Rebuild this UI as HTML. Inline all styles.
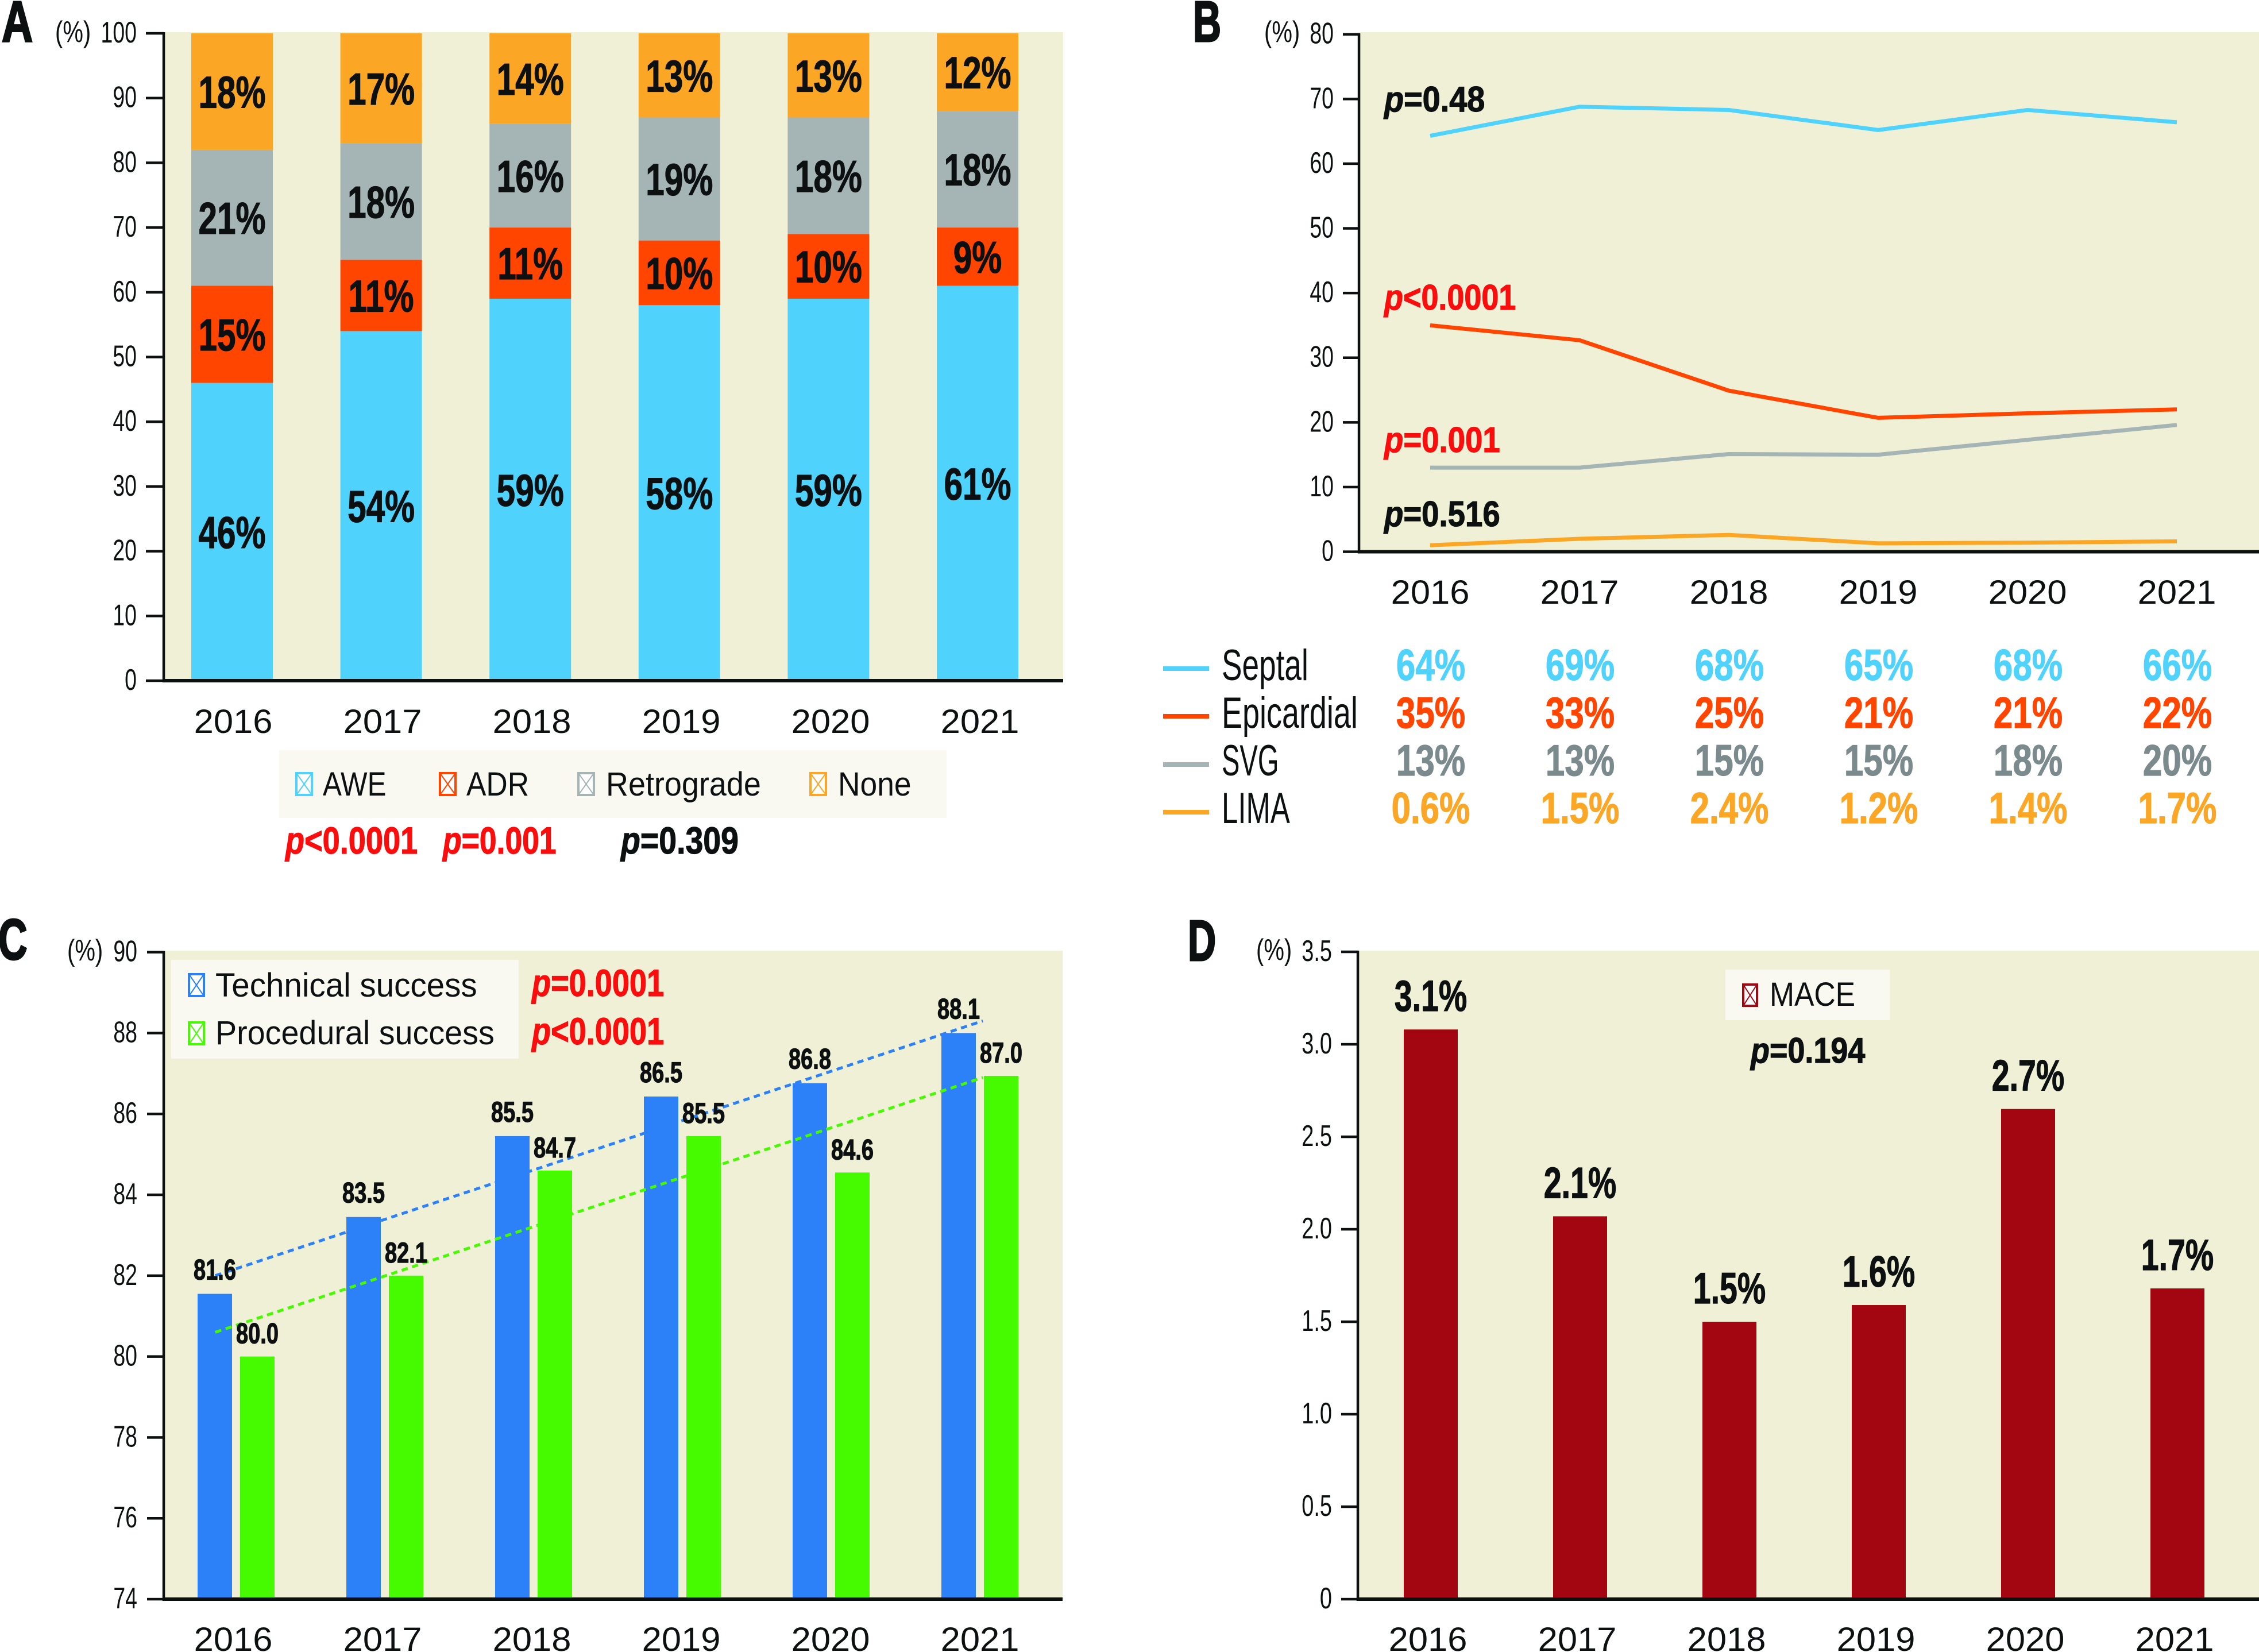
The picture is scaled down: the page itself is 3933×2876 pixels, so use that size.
<!DOCTYPE html>
<html lang="en">
<head>
<meta charset="utf-8">
<title>Four-panel chart of CTO PCI trends 2016 to 2021</title>
<style>
html,body{margin:0;padding:0;background:#fff;width:3933px;height:2876px;overflow:hidden}
svg{display:block}
text{font-family:"Liberation Sans",Arial,sans-serif;fill:#0d1011}
.b{font-weight:700;stroke:#0d1011;stroke-width:1.2px}
.letter{font-weight:700;stroke:#0d1011;stroke-width:3px}
.p{font-style:italic}
.red,.b.red{fill:#f90d0d;stroke:#f90d0d}
</style>
</head>
<body>
<svg id="figure" xmlns="http://www.w3.org/2000/svg" width="3933" height="2876" viewBox="0 0 3933 2876">
  <rect x="0" y="0" width="3933" height="2876" fill="#ffffff"/>

  <!-- Panel A -->
  <g id="panel-a">
    <text class="letter" font-size="100" transform="translate(3,72) scale(.75,1)">A</text>
    <rect x="285" y="56" width="1566" height="1128" fill="#eff0d6"/>
    <text font-size="52" transform="translate(96,73) scale(.77,1)">(%)</text>
    <g id="marks-a"></g>
    <g>
      <rect x="486" y="1306" width="1162" height="118" fill="#f9f8f1"/>
      <g fill="#fff" stroke="#4fd3fc"><rect x="516" y="1346" width="27" height="38" stroke-width="4"/><path d="M516 1346L543 1384M543 1346L516 1384" stroke-width="2"/></g>
      <text font-size="58" transform="translate(562,1385) scale(.85,1)">AWE</text>
      <g fill="#fff" stroke="#ff4500"><rect x="766" y="1346" width="27" height="38" stroke-width="4"/><path d="M766 1346L793 1384M793 1346L766 1384" stroke-width="2"/></g>
      <text font-size="58" transform="translate(812,1385) scale(.89,1)">ADR</text>
      <g fill="#fff" stroke="#a5b4b5"><rect x="1007" y="1346" width="27" height="38" stroke-width="4"/><path d="M1007 1346L1034 1384M1034 1346L1007 1384" stroke-width="2"/></g>
      <text font-size="58" transform="translate(1055,1385) scale(.93,1)">Retrograde</text>
      <g fill="#fff" stroke="#fba625"><rect x="1411" y="1346" width="27" height="38" stroke-width="4"/><path d="M1411 1346L1438 1384M1438 1346L1411 1384" stroke-width="2"/></g>
      <text font-size="58" transform="translate(1459,1385) scale(.92,1)">None</text>
    </g>
    <text class="b red" font-size="66" transform="translate(497,1486) scale(.82,1)"><tspan class="p red">p</tspan>&lt;0.0001</text>
    <text class="b red" font-size="66" transform="translate(771,1486) scale(.81,1)"><tspan class="p red">p</tspan>=0.001</text>
    <text class="b" font-size="66" transform="translate(1081,1486) scale(.84,1)"><tspan class="p">p</tspan>=0.309</text>
  </g>

  <!-- Panel B -->
  <g id="panel-b">
    <text class="letter" font-size="100" transform="translate(2077,72) scale(.68,1)">B</text>
    <rect x="2366" y="56" width="1567" height="905" fill="#eff0d6"/>
    <text font-size="52" transform="translate(2201,73) scale(.77,1)">(%)</text>
    <g id="marks-b"></g>
    <text class="b" font-size="62" transform="translate(2410,194) scale(.9,1)"><tspan class="p">p</tspan>=0.48</text>
    <text class="b red" font-size="62" transform="translate(2410,539) scale(.87,1)"><tspan class="p red">p</tspan>&lt;0.0001</text>
    <text class="b red" font-size="62" transform="translate(2410,787) scale(.88,1)"><tspan class="p red">p</tspan>=0.001</text>
    <text class="b" font-size="62" transform="translate(2410,916) scale(.88,1)"><tspan class="p">p</tspan>=0.516</text>
    <rect x="2025" y="1160" width="80" height="8" fill="#4fd3fc"/>
    <rect x="2025" y="1243" width="80" height="8" fill="#ff4500"/>
    <rect x="2025" y="1327" width="80" height="8" fill="#a5b4b5"/>
    <rect x="2025" y="1410" width="80" height="8" fill="#fba625"/>
    <text font-size="76" transform="translate(2127,1184) scale(.7,1)">Septal</text>
    <text font-size="76" transform="translate(2127,1267) scale(.71,1)">Epicardial</text>
    <text font-size="76" transform="translate(2127,1350) scale(.62,1)">SVG</text>
    <text font-size="76" transform="translate(2127,1433) scale(.67,1)">LIMA</text>
  </g>

  <!-- Panel C -->
  <g id="panel-c">
    <text class="letter" font-size="100" transform="translate(-3,1670) scale(.7,1)">C</text>
    <rect x="285" y="1655" width="1565" height="1130" fill="#eff0d6"/>
    <text font-size="52" transform="translate(117,1672) scale(.77,1)">(%)</text>
    <g id="marks-c"></g>
    <g>
      <rect x="298" y="1671" width="605" height="172" fill="#f9f8f1"/>
      <g fill="#fff" stroke="#2c80f8"><rect x="329" y="1696" width="26" height="38" stroke-width="4"/><path d="M329 1696L355 1734M355 1696L329 1734" stroke-width="2"/></g>
      <text font-size="58" transform="translate(375,1735) scale(.975,1)">Technical success</text>
      <g fill="#fff" stroke="#46fa00"><rect x="329" y="1780" width="26" height="38" stroke-width="4"/><path d="M329 1780L355 1818M355 1780L329 1818" stroke-width="2"/></g>
      <text font-size="58" transform="translate(375,1818) scale(.96,1)">Procedural success</text>
    </g>
    <text class="b red" font-size="66" transform="translate(926,1734) scale(.82,1)"><tspan class="p red">p</tspan>=0.0001</text>
    <text class="b red" font-size="66" transform="translate(926,1818) scale(.82,1)"><tspan class="p red">p</tspan>&lt;0.0001</text>
  </g>

  <!-- Panel D -->
  <g id="panel-d">
    <text class="letter" font-size="100" transform="translate(2068,1672) scale(.68,1)">D</text>
    <rect x="2364" y="1655" width="1569" height="1130" fill="#eff0d6"/>
    <text font-size="52" transform="translate(2187,1671) scale(.77,1)">(%)</text>
    <g id="marks-d"></g>
    <g>
      <rect x="3004" y="1688" width="286" height="88" fill="#f9f8f1"/>
      <g fill="#fff" stroke="#a30610"><rect x="3035" y="1714" width="24" height="37" stroke-width="4"/><path d="M3035 1714L3059 1751M3059 1714L3035 1751" stroke-width="2"/></g>
      <text font-size="58" transform="translate(3081,1751) scale(.89,1)">MACE</text>
    </g>
    <text class="b" font-size="62" transform="translate(3048,1850) scale(.87,1)"><tspan class="p">p</tspan>=0.194</text>
  </g>
</svg>

<script>
const categories = ['2016', '2017', '2018', '2019', '2020', '2021'];

// Panel A: stacked share of crossing strategies
const aweValues = [46, 54, 59, 58, 59, 61];
const adrValues = [15, 11, 11, 10, 10, 9];
const retrogradeValues = [21, 18, 16, 19, 18, 18];
const noneValues = [18, 17, 14, 13, 13, 12];
const panelATicks = [0, 10, 20, 30, 40, 50, 60, 70, 80, 90, 100];

// Panel B: target vessel lines and printed table
const septalValues = [64.3, 68.8, 68.3, 65.2, 68.3, 66.4];
const epicardialValues = [35.0, 32.7, 24.9, 20.7, 21.4, 22.0];
const svgValues = [13.0, 13.0, 15.1, 15.0, 17.3, 19.6];
const limaValues = [1.0, 2.0, 2.6, 1.3, 1.4, 1.6];
const septalLabels = ['64%', '69%', '68%', '65%', '68%', '66%'];
const epicardialLabels = ['35%', '33%', '25%', '21%', '21%', '22%'];
const svgLabels = ['13%', '13%', '15%', '15%', '18%', '20%'];
const limaLabels = ['0.6%', '1.5%', '2.4%', '1.2%', '1.4%', '1.7%'];
const panelBTicks = [0, 10, 20, 30, 40, 50, 60, 70, 80];

// Panel C: success rates
const technicalValues = [81.55, 83.45, 85.45, 86.43, 86.76, 88.0];
const proceduralValues = [80.0, 82.0, 84.6, 85.45, 84.55, 86.94];
const technicalLabels = ['81.6', '83.5', '85.5', '86.5', '86.8', '88.1'];
const proceduralLabels = ['80.0', '82.1', '84.7', '85.5', '84.6', '87.0'];
const technicalTrend = [82.0, 88.3];
const proceduralTrend = [80.6, 86.9];
const trendSpan = [-0.14, 5.02];
const panelCTicks = [74, 76, 78, 80, 82, 84, 86, 88, 90];

// Panel D: MACE
const maceValues = [3.08, 2.07, 1.5, 1.59, 2.65, 1.68];
const maceLabels = ['3.1%', '2.1%', '1.5%', '1.6%', '2.7%', '1.7%'];
const panelDTicks = [0, 0.5, 1, 1.5, 2, 2.5, 3, 3.5];
const panelDTickLabels = ['0', '0.5', '1.0', '1.5', '2.0', '2.5', '3.0', '3.5'];

const NS = 'http://www.w3.org/2000/svg';
const INK = '#0d1011';

function shape(parent, tag, attrs) {
  const node = document.createElementNS(NS, tag);
  for (const k in attrs) node.setAttribute(k, attrs[k]);
  parent.appendChild(node);
  return node;
}
function label(parent, str, x, y, size, sx, bold, fill, anchor) {
  const node = document.createElementNS(NS, 'text');
  node.setAttribute('font-size', size);
  node.setAttribute('transform', 'translate(' + x + ',' + y + ') scale(' + sx + ',1)');
  node.setAttribute('text-anchor', anchor || 'middle');
  node.style.fill = fill || INK;
  if (bold) {
    node.setAttribute('font-weight', '700');
    node.style.stroke = fill || INK;
    node.style.strokeWidth = '1.2px';
  }
  node.textContent = str;
  parent.appendChild(node);
  return node;
}
function drawAxes(parent, panel, ticks, tickLabels, yScale, axisX, tickLeft, labelRight, size, sx, xEnd, xLabels, xCenter, xBaseline) {
  ticks.forEach(function (t, i) {
    const tick = shape(parent, 'rect', {x: tickLeft, y: yScale(t) - 2.2, width: axisX - tickLeft, height: 4.5, fill: INK});
    
    
    const lab = label(parent, tickLabels[i], labelRight, yScale(t) + 16, size, sx, false, INK, 'end');
    
    
  });
  const yAxis = shape(parent, 'rect', {x: axisX - 2.2, y: yScale(ticks[ticks.length - 1]) - 2, width: 4.5, height: yScale(ticks[0]) - yScale(ticks[ticks.length - 1]) + 5, fill: INK});
  
  
  const xAxis = shape(parent, 'rect', {x: axisX - 2, y: yScale(ticks[0]) - 3, width: xEnd - axisX + 2, height: 6, fill: INK});
  
  
  xLabels.forEach(function (c, i) {
    const lab = label(parent, c, xCenter(i), xBaseline, 58, 1.06, false, INK);
    
    
  });
}

/* Panel A */
(function () {
  const g = document.getElementById('marks-a');
  const y = function (v) { return 1185 - v * 11.27; };
  const x = function (i) { return 404 + i * 259.6; };
  const barW = 142;
  const series = [
    {name: 'awe', values: aweValues, color: '#4fd3fc'},
    {name: 'adr', values: adrValues, color: '#ff4500'},
    {name: 'retrograde', values: retrogradeValues, color: '#a5b4b5'},
    {name: 'none', values: noneValues, color: '#fba625'}
  ];
  const barLayer = shape(g, 'g', {});
  const labelLayer = shape(g, 'g', {});
  categories.forEach(function (cat, i) {
    let base = 0;
    series.forEach(function (s) {
      const v = s.values[i];
      const seg = shape(barLayer, 'rect', {x: x(i) - barW / 2, y: y(base + v), width: barW, height: y(base) - y(base + v), fill: s.color});
      
      
      const lab = label(labelLayer, v + '%', x(i), (y(base) + y(base + v)) / 2 + 28, 78, 0.75, true);
      
      
      base += v;
    });
  });
  drawAxes(g, 'panel-a', panelATicks, panelATicks.map(String), y, 285, 254, 238, 52, 0.72, 1851, categories, function (i) { return 406 + i * 260; }, 1276);
})();

/* Panel B */
(function () {
  const g = document.getElementById('marks-b');
  const y = function (v) { return 960.5 - v * 11.26; };
  const x = function (i) { return 2490 + i * 260; };
  const series = [
    {name: 'septal', values: septalValues, labels: septalLabels, color: '#4fd3fc', textColor: '#4fd3fc', base: 1184},
    {name: 'epicardial', values: epicardialValues, labels: epicardialLabels, color: '#ff4500', textColor: '#ff4500', base: 1267},
    {name: 'svg', values: svgValues, labels: svgLabels, color: '#a5b4b5', textColor: '#7b8a8d', base: 1350},
    {name: 'lima', values: limaValues, labels: limaLabels, color: '#fba625', textColor: '#fba625', base: 1433}
  ];
  series.forEach(function (s) {
    const pts = s.values.map(function (v, i) { return x(i) + ',' + y(v); }).join(' ');
    const line = shape(g, 'polyline', {points: pts, fill: 'none', stroke: s.color, 'stroke-width': 7, 'stroke-linejoin': 'round'});
    
    
    s.labels.forEach(function (t, i) {
      const cell = label(g, t, x(i) + 1, s.base, 76, 0.79, true, s.textColor);
      
      
    });
  });
  drawAxes(g, 'panel-b', panelBTicks, panelBTicks.map(String), y, 2366, 2338, 2322, 52, 0.72, 3933, categories, x, 1051);
})();

/* Panel C */
(function () {
  const g = document.getElementById('marks-c');
  const y = function (v) { return 2784 - (v - 74) * 70.4; };
  const center = function (i) { return 411 + i * 259; };
  const barW = 60;
  const gap = 14;
  function trend(values, color, name) {
    const line = shape(g, 'line', {x1: center(trendSpan[0]), y1: y(values[0]), x2: center(trendSpan[1]), y2: y(values[1]), stroke: color, 'stroke-width': 5, 'stroke-dasharray': '11 8'});
    
    
  }
  trend(technicalTrend, '#2c80f8', 'technical');
  categories.forEach(function (cat, i) {
    const blue = shape(g, 'rect', {x: center(i) - gap / 2 - barW, y: y(technicalValues[i]), width: barW, height: y(74) - y(technicalValues[i]), fill: '#2c80f8'});
    
    
  });
  trend(proceduralTrend, '#46fa00', 'procedural');
  categories.forEach(function (cat, i) {
    const green = shape(g, 'rect', {x: center(i) + gap / 2, y: y(proceduralValues[i]), width: barW, height: y(74) - y(proceduralValues[i]), fill: '#46fa00'});
    
    
  });
  categories.forEach(function (cat, i) {
    const a = label(g, technicalLabels[i], center(i) - gap / 2 - barW / 2, y(technicalValues[i]) - 25, 50, 0.76, true);
    
    
    const b = label(g, proceduralLabels[i], center(i) + gap / 2 + barW / 2, y(proceduralValues[i]) - 23, 50, 0.76, true);
    
    
  });
  drawAxes(g, 'panel-c', panelCTicks, panelCTicks.map(String), y, 285, 256, 239, 52, 0.72, 1850, categories, function (i) { return 406 + i * 260; }, 2874);
})();

/* Panel D */
(function () {
  const g = document.getElementById('marks-d');
  const y = function (v) { return 2784 - v * 322; };
  const x = function (i) { return 2491 + i * 260; };
  const barW = 94;
  categories.forEach(function (cat, i) {
    const bar = shape(g, 'rect', {x: x(i) - barW / 2, y: y(maceValues[i]), width: barW, height: y(0) - y(maceValues[i]), fill: '#a30610'});
    
    
    const lab = label(g, maceLabels[i], x(i), y(maceValues[i]) - 32, 76, 0.73, true);
    
    
  });
  drawAxes(g, 'panel-d', panelDTicks, panelDTickLabels, y, 2364, 2335, 2319, 52, 0.73, 3933, categories, function (i) { return 2486 + i * 260; }, 2874);
})();
</script>
</body>
</html>
